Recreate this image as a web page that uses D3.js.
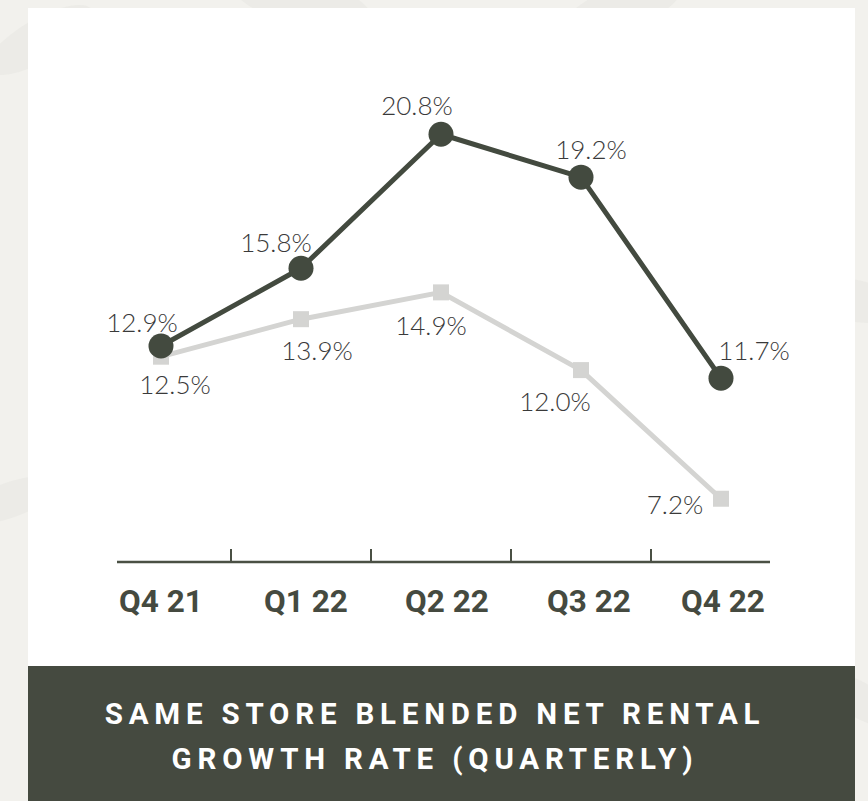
<!DOCTYPE html>
<html><head><meta charset="utf-8">
<script src="https://cdn.jsdelivr.net/npm/d3@7"></script>
<style>
html,body{margin:0;padding:0;background:#f2f1ed;}
svg{display:block;}
</style></head>
<body>
<script>
const categories = ["Q4 21","Q1 22","Q2 22","Q3 22","Q4 22"];
const seriesDark = [12.9, 15.8, 20.8, 19.2, 11.7];
const seriesLight = [12.5, 13.9, 14.9, 12.0, 7.2];
const darkLabelOffsets = [[-19,-14],[-25,-16],[-24,-19],[10,-18],[33,-18]];
const lightLabelOffsets = [[14,37],[16,41],[-10,43],[-26,41],[-46,15]];
const catLabelOffsets = [0,5,6,8,2];
const titleLines = ["SAME STORE BLENDED NET RENTAL","GROWTH RATE (QUARTERLY)"];

const W = 868, H = 801;
const svg = d3.select("body").append("svg").attr("width", W).attr("height", H);

// background texture hint
const bg = svg.append("g");
bg.append("rect").attr("width", W).attr("height", H).attr("fill", "#f2f1ed");
const leaves = [[40,40,60,-30],[790,60,70,40],[850,300,60,10],[10,500,50,-20],[860,700,50,30],[300,0,80,20],[620,10,70,-25]];
leaves.forEach(([x,y,r,a])=>{
  bg.append("ellipse").attr("cx",x).attr("cy",y).attr("rx",r).attr("ry",r*0.35)
    .attr("transform",`rotate(${a},${x},${y})`).attr("fill","#e8e7e2").attr("opacity",0.6);
});

// card
svg.append("rect").attr("x",28).attr("y",8).attr("width",827).attr("height",660).attr("fill","#ffffff");
svg.append("rect").attr("x",28).attr("y",666).attr("width",827).attr("height",135).attr("fill","#454a40");

const x = d3.scalePoint().domain(categories).range([161, 721]);
const y = d3.scaleLinear().domain([5, 21]).range([557.7, 128.9]);

const darkColor = "#434a3f", lightColor = "#d4d4d2";

// axis
const axisY = 562;
const g = svg.append("g");
g.append("line").attr("x1", x(categories[0]) - 44).attr("x2", x(categories[4]) + 49)
  .attr("y1", axisY).attr("y2", axisY).attr("stroke", "#4a5044").attr("stroke-width", 2.5);
for (let i = 0; i < categories.length - 1; i++) {
  const mx = (x(categories[i]) + x(categories[i+1])) / 2;
  g.append("line").attr("x1", mx).attr("x2", mx).attr("y1", axisY).attr("y2", axisY - 13)
    .attr("stroke", "#4a5044").attr("stroke-width", 2);
}
g.selectAll("text.cat").data(categories).join("text").attr("class","cat")
  .attr("x", (d,i) => x(d) + catLabelOffsets[i]).attr("y", 612)
  .attr("text-anchor","middle")
  .attr("font-family","Roboto, 'Liberation Sans', sans-serif").attr("font-weight",700)
  .attr("font-size",31.5).attr("fill","#454a40")
  .text(d => d);

const line = d3.line().x((d,i) => x(categories[i])).y(d => y(d));

// light series
svg.append("path").datum(seriesLight).attr("d", line).attr("fill","none")
  .attr("stroke", lightColor).attr("stroke-width", 5).attr("stroke-linejoin","round");
svg.selectAll("rect.sq").data(seriesLight).join("rect").attr("class","sq")
  .attr("x",(d,i)=>x(categories[i])-8).attr("y",d=>y(d)-8).attr("width",16).attr("height",16)
  .attr("fill", lightColor);

// dark series
svg.append("path").datum(seriesDark).attr("d", line).attr("fill","none")
  .attr("stroke", darkColor).attr("stroke-width", 5).attr("stroke-linejoin","round");
svg.selectAll("circle.pt").data(seriesDark).join("circle").attr("class","pt")
  .attr("cx",(d,i)=>x(categories[i])).attr("cy",d=>y(d)).attr("r",12.5)
  .attr("fill", darkColor);

const fmt = d => d.toFixed(1) + "%";
const lblFont = "Lato, 'Open Sans', sans-serif";
svg.selectAll("text.dl").data(seriesDark).join("text").attr("class","dl")
  .attr("x",(d,i)=>x(categories[i]) + darkLabelOffsets[i][0])
  .attr("y",(d,i)=>y(d) + darkLabelOffsets[i][1])
  .attr("text-anchor","middle").attr("font-family",lblFont).attr("font-weight",300)
  .attr("font-size",26).attr("fill","#3a3a3a").text(fmt);
svg.selectAll("text.ll").data(seriesLight).join("text").attr("class","ll")
  .attr("x",(d,i)=>x(categories[i]) + lightLabelOffsets[i][0])
  .attr("y",(d,i)=>y(d) + lightLabelOffsets[i][1])
  .attr("text-anchor","middle").attr("font-family",lblFont).attr("font-weight",300)
  .attr("font-size",26).attr("fill","#3a3a3a").text(fmt);

// title
svg.selectAll("text.title").data(titleLines).join("text").attr("class","title")
  .attr("x", 435).attr("y",(d,i)=>724 + i*45)
  .attr("text-anchor","middle").attr("font-family","Roboto, sans-serif").attr("font-weight",700)
  .attr("font-size",29.5).attr("letter-spacing",5.8).attr("fill","#ffffff")
  .text(d=>d);
</script>
</body></html>
